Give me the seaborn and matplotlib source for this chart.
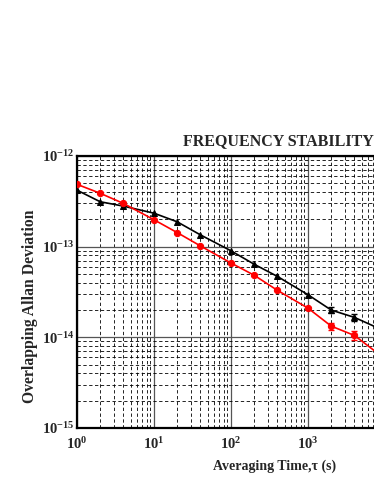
import numpy as np
import pandas as pd
import seaborn as sns
import matplotlib
matplotlib.use("Agg")
import matplotlib.pyplot as plt
from matplotlib.ticker import LogLocator, FuncFormatter, NullFormatter

# data
tau = [1, 2, 4, 10, 20, 40, 100, 200, 400, 1000, 2000, 4000, 10000]
adev_black = [4.2e-13, 3.13e-13, 2.8e-13, 2.34e-13, 1.88e-13, 1.35e-13, 9.0e-14,
              6.4e-14, 4.7e-14, 2.95e-14, 2.0e-14, 1.66e-14, 1.17e-14]
adev_red = [4.87e-13, 3.88e-13, 3.0e-13, 1.98e-13, 1.43e-13, 1.02e-13, 6.6e-14,
            4.84e-14, 3.3e-14, 2.1e-14, 1.33e-14, 1.05e-14, 5.8e-15]
err_tau = [2000, 4000]
err_black = [1.4e-15, 1.3e-15]
err_red = [1.1e-15, 1.1e-15]

sns.set_style("white")
plt.rcParams["font.family"] = ["Liberation Serif", "DejaVu Serif"]
plt.rcParams["font.weight"] = "bold"
plt.rcParams["mathtext.fontset"] = "custom"
plt.rcParams["mathtext.rm"] = "Liberation Serif:bold"
plt.rcParams["mathtext.bf"] = "Liberation Serif:bold"
plt.rcParams["mathtext.it"] = "Liberation Serif:bold"

df_b = pd.DataFrame({"tau": tau, "adev": adev_black})
df_r = pd.DataFrame({"tau": tau, "adev": adev_red})

fig = plt.figure(figsize=(3.74, 4.84), dpi=100)
# axes run past the right edge, like the cropped original
ax = fig.add_axes([77 / 374, 56 / 484, 385 / 374, 272 / 484])
ax.set_xscale("log")
ax.set_yscale("log")

sns.lineplot(data=df_b, x="tau", y="adev", ax=ax, color="black", marker="^",
             markersize=5, markeredgecolor="black", linewidth=1.2, zorder=5)
sns.lineplot(data=df_r, x="tau", y="adev", ax=ax, color="red", marker="o",
             markersize=4.5, markeredgecolor="red", linewidth=1.2, zorder=5)

sel_b = [adev_black[tau.index(t)] for t in err_tau]
sel_r = [adev_red[tau.index(t)] for t in err_tau]
ax.errorbar(err_tau, sel_b, yerr=err_black, fmt="none", ecolor="black",
            capsize=2, elinewidth=1, zorder=6)
ax.errorbar(err_tau, sel_r, yerr=err_red, fmt="none", ecolor="red",
            capsize=2, elinewidth=1, zorder=6)

ax.set_xlim(1, 1e5)
ax.set_ylim(1e-15, 1e-12)

ax.xaxis.set_major_locator(LogLocator(base=10, numticks=10))
ax.yaxis.set_major_locator(LogLocator(base=10, numticks=10))
ax.xaxis.set_minor_locator(LogLocator(base=10, subs=np.arange(2, 10), numticks=20))
ax.yaxis.set_minor_locator(LogLocator(base=10, subs=np.arange(2, 10), numticks=20))
fmt = FuncFormatter(lambda v, p: r"$\mathbf{10^{%d}}$" % int(round(np.log10(v))))
ax.xaxis.set_major_formatter(fmt)
ax.yaxis.set_major_formatter(fmt)
ax.xaxis.set_minor_formatter(NullFormatter())
ax.yaxis.set_minor_formatter(NullFormatter())
ax.tick_params(which="both", length=0, labelsize=10.5)
ax.tick_params(axis="x", pad=6)
ax.tick_params(axis="y", pad=2)

ax.grid(which="major", color="#555555", linestyle="-", linewidth=0.9)
ax.grid(which="minor", color="black", linestyle=(0, (4, 3)), linewidth=0.6)
ax.set_axisbelow(True)

for s in ax.spines.values():
    s.set_linewidth(1.6)
    s.set_color("black")

ax.set_xlabel("Averaging Time,\u03c4 (s)", fontsize=10, fontweight="bold")
ax.set_ylabel("Overlapping Allan Deviation", fontsize=11.3, fontweight="bold")
ax.xaxis.set_label_coords((275 - 77) / 385, -0.115)
ax.yaxis.set_label_coords(-0.1, (428 - 306) / 272)

fig.text(183 / 374, 1 - 141 / 484, "FREQUENCY STABILITY", ha="left", va="center",
         fontsize=11.5, fontweight="bold")

fig.savefig("out.png", dpi=100)
